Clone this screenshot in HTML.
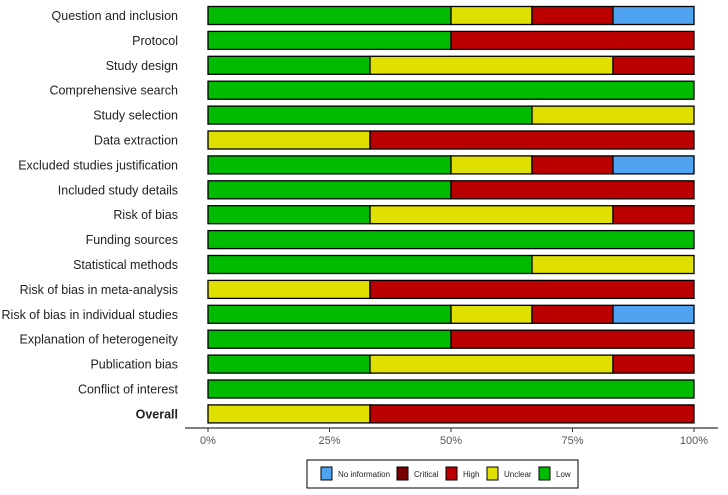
<!DOCTYPE html>
<html><head><meta charset="utf-8"><style>
html,body{margin:0;padding:0;background:#fff;width:728px;height:495px;overflow:hidden}
text{font-family:"Liberation Sans",sans-serif}
</style></head><body>
<svg id="chart" width="728" height="495"></svg>
<script>
const categories=["Question and inclusion","Protocol","Study design","Comprehensive search","Study selection","Data extraction","Excluded studies justification","Included study details","Risk of bias","Funding sources","Statistical methods","Risk of bias in meta-analysis","Risk of bias in individual studies","Explanation of heterogeneity","Publication bias","Conflict of interest","Overall"];
const lowVals=[3,3,2,6,4,0,3,3,2,6,4,0,3,3,2,6,0];
const unclearVals=[1,0,3,0,2,2,1,0,3,0,2,2,1,0,3,0,2];
const highVals=[1,3,1,0,0,4,1,3,1,0,0,4,1,3,1,0,4];
const criticalVals=[0,0,0,0,0,0,0,0,0,0,0,0,0,0,0,0,0];
const noInfoVals=[1,0,0,0,0,0,1,0,0,0,0,0,1,0,0,0,0];
const tickVals=[0,25,50,75,100];
const tickLabels=["0%","25%","50%","75%","100%"];
const legendLabels=["No information","Critical","High","Unclear","Low"];
const NS="http://www.w3.org/2000/svg";
const svg=document.getElementById('chart');
const x0=208,x1=694,y0=15.5,step=24.9,bh=18;
const xs=p=>x0+(x1-x0)*p/100;
const ys=i=>y0+i*step;
function mk(t,a,p){const e=document.createElementNS(NS,t);for(const k in a)e.setAttribute(k,a[k]);(p||svg).appendChild(e);return e;}
const colors={low:"#00bb00",unclear:"#e0e000",high:"#bb0000",critical:"#770000",noinfo:"#4fa3f0"};
categories.forEach((c,i)=>{
  const t=mk('text',{x:178,y:ys(i)+4.5,'text-anchor':'end','font-size':12.5,fill:'#222','font-weight':i===categories.length-1?'bold':'normal'});
  t.textContent=c;
  
  
  const tot=lowVals[i]+unclearVals[i]+highVals[i]+criticalVals[i]+noInfoVals[i];
  let acc=0;
  [["low",lowVals],["unclear",unclearVals],["high",highVals],["critical",criticalVals],["noinfo",noInfoVals]].forEach(([k,arr])=>{
    const v=arr[i];if(!v)return;
    const a=acc/tot*100,b=(acc+v)/tot*100;acc+=v;
    const r=mk('rect',{x:xs(a),y:ys(i)-bh/2,width:xs(b)-xs(a),height:bh,fill:colors[k],stroke:'#000','stroke-width':1.3});
    
    
  });
});
const ax=mk('line',{x1:185,x2:718,y1:428,y2:428,stroke:'#333','stroke-width':1.3});


tickVals.forEach((v,i)=>{
  mk('line',{x1:xs(v),x2:xs(v),y1:428,y2:432,stroke:'#333'});
  const t=mk('text',{x:xs(v),y:444,'text-anchor':'middle','font-size':11,fill:'#555'});
  t.textContent=tickLabels[i];
  
  
});
const lg=mk('g',{});


mk('rect',{x:307,y:460,width:271,height:28,fill:'#fff',stroke:'#000','stroke-width':1},lg);
const lx=[321,397,446,487,539],lc=[colors.noinfo,colors.critical,colors.high,colors.unclear,colors.low];
legendLabels.forEach((l,i)=>{
  mk('rect',{x:lx[i],y:467,width:11,height:13,fill:lc[i],stroke:'#000','stroke-width':1},lg);
  const t=mk('text',{x:lx[i]+17,y:477,'font-size':8,fill:'#222'},lg);
  t.textContent=l;
  
  
});
</script>
</body></html>
